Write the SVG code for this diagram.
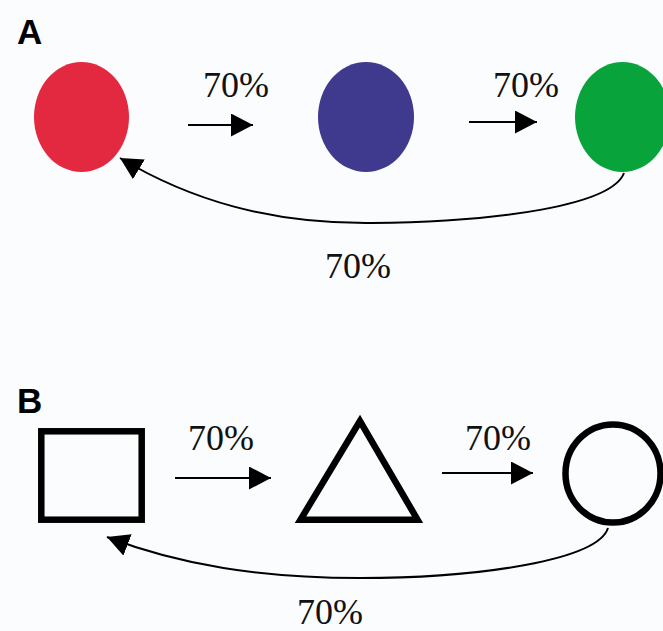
<svg xmlns="http://www.w3.org/2000/svg" width="663" height="631" viewBox="0 0 663 631">
  <defs>
    <style>
      .panel { font-family: "Liberation Sans", Arial, sans-serif; font-weight: bold; font-size: 35px; fill: #000; }
      .pct { font-family: "Liberation Serif", "Times New Roman", serif; font-size: 36px; fill: #111; }
      .arrow { fill: none; stroke: #000; stroke-width: 2; }
      .shape { fill: none; stroke: #000; stroke-width: 6.5; }
    </style>
    <marker id="head" markerUnits="userSpaceOnUse" markerWidth="24" markerHeight="24" refX="22" refY="11.5" orient="auto">
      <path d="M0,0 L22,11.5 L0,23 z" fill="#000"/>
    </marker>
  </defs>
  <rect width="663" height="631" fill="#fafcfd"/>

  <text class="panel" x="17" y="44">A</text>
  <text class="panel" x="17" y="413">B</text>

  <g id="nodeA1"><ellipse cx="81.5" cy="117" rx="47.5" ry="55" fill="#e2293f"/></g>
  <g id="nodeA2"><ellipse cx="366" cy="117" rx="48" ry="55" fill="#3f3a8e"/></g>
  <g id="nodeA3"><ellipse cx="622.5" cy="117" rx="47.5" ry="55" fill="#08a33b"/></g>

  <g id="nodeB1"><rect class="shape" x="41.3" y="431.3" width="100.4" height="88.4"/></g>
  <g id="nodeB2"><polygon class="shape" points="360,421 300.5,519.7 417.5,519.7" stroke-linejoin="miter"/></g>
  <g id="nodeB3"><ellipse class="shape" cx="613" cy="473.5" rx="47.5" ry="49" stroke-width="5"/></g>

  <g id="connectors">
    <line class="arrow" x1="188" y1="125" x2="253" y2="125" marker-end="url(#head)"/>
    <line class="arrow" x1="469" y1="122" x2="537" y2="122" marker-end="url(#head)"/>
    <path class="arrow" d="M624,173 C612,205 500,222 372,223 C270,224 190,200 120,158" marker-end="url(#head)"/>

    <line class="arrow" x1="175" y1="478" x2="271" y2="478" marker-end="url(#head)"/>
    <line class="arrow" x1="442" y1="473" x2="533" y2="473" marker-end="url(#head)"/>
    <path class="arrow" d="M608,528 C598,560 480,578 360,578 C260,578 180,565 107,537" marker-end="url(#head)"/>
  </g>

  <g id="labels">
    <text class="pct" x="203" y="97">70%</text>
    <text class="pct" x="493" y="97">70%</text>
    <text class="pct" x="325" y="278">70%</text>
    <text class="pct" x="188" y="450">70%</text>
    <text class="pct" x="465" y="450">70%</text>
    <text class="pct" x="297" y="624">70%</text>
  </g>
</svg>
